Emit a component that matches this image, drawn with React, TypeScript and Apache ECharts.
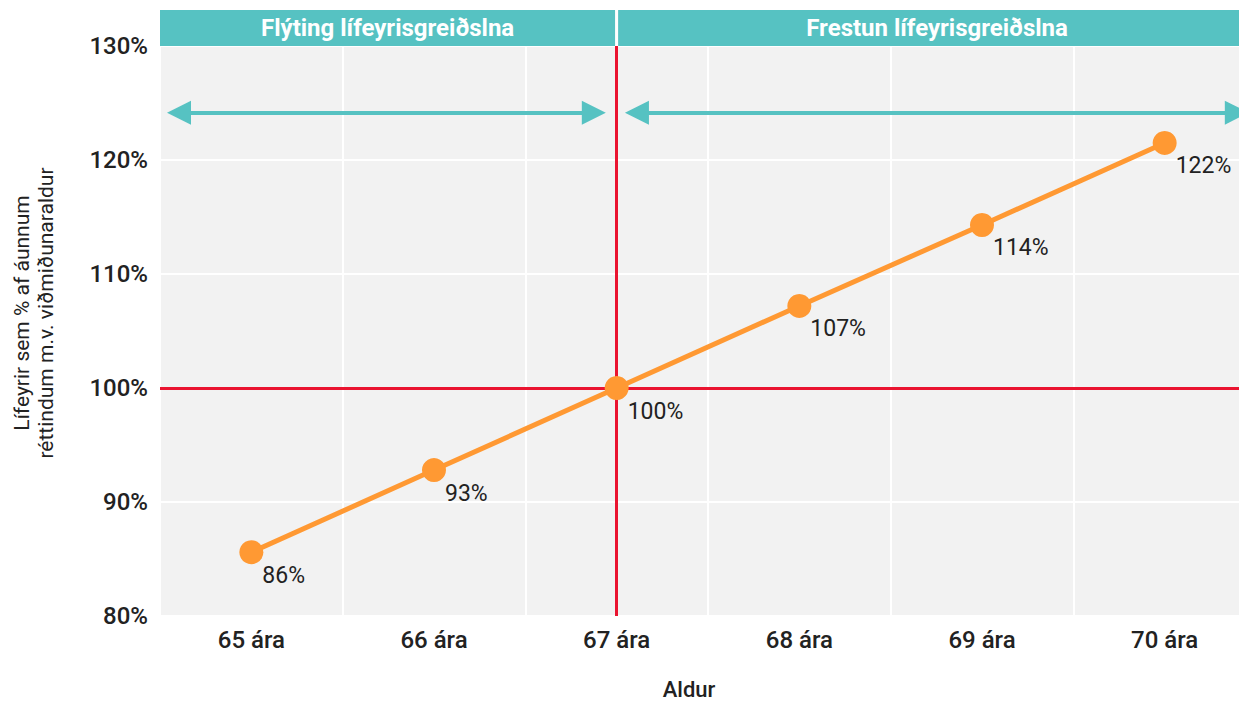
import React, { useEffect, useRef } from "react";
import * as echarts from "echarts";

const categories = ["65 ára", "66 ára", "67 ára", "68 ára", "69 ára", "70 ára"];
const pensionPct = [85.6, 92.8, 100, 107.2, 114.3, 121.5];

const yMin = 80;
const yTickTop = 130;
const yTop = 133.16;
const yInterval = 10;

const xSpanMin = 64.5;
const xSpanMax = 70.5;

const headerSections = [
  { name: "Flýting lífeyrisgreiðslna", from: 64.5, to: 66.992, color: "#56c2c2" },
  { name: "", from: 66.992, to: 67.008, color: "#ffffff" },
  { name: "Frestun lífeyrisgreiðslna", from: 67.008, to: 70.5, color: "#56c2c2" },
];

const arrowLevel = 124.15;
const arrowSpans = [
  [64.604, 66.875],
  [67.111, 70.395],
];

const referenceAge = 67;
const referencePct = 100;

const FONT = "Roboto, 'Noto Sans', sans-serif";

export default function App() {
  const ref = useRef<HTMLDivElement>(null);

  useEffect(() => {
    if (!ref.current) return;
    const chart = echarts.init(ref.current, undefined, { renderer: "svg" });

    const option: any = {
      animation: false,
      grid: {
        left: 160,
        right: 0,
        top: 10,
        bottom: 89,
        show: true,
        backgroundColor: "#f2f2f2",
        borderWidth: 0,
      },
      xAxis: [
        {
          type: "category",
          data: categories,
          boundaryGap: true,
          axisLine: { show: false },
          axisTick: { show: false },
          axisLabel: {
            interval: 0,
            margin: 12,
            color: "#222",
            fontFamily: FONT,
            fontSize: 24,
            fontWeight: 500,
          },
          splitLine: { show: true, interval: 0, lineStyle: { color: "#ffffff", width: 2 } },
          name: "Aldur",
          nameLocation: "middle",
          nameGap: 62,
          nameTextStyle: {
            color: "#222",
            fontFamily: FONT,
            fontSize: 22,
            fontWeight: 500,
            padding: [0, 38, 0, 0],
          },
        },
        {
          type: "value",
          min: xSpanMin,
          max: xSpanMax,
          show: false,
        },
      ],
      yAxis: {
        type: "value",
        min: yMin,
        max: yTop,
        interval: yInterval,
        axisLine: { show: false },
        axisTick: { show: false },
        axisLabel: {
          margin: 12,
          color: "#222",
          fontFamily: FONT,
          fontSize: 24,
          fontWeight: 500,
          formatter: (v: number) =>
            Math.abs(v % yInterval) < 1e-6 && v <= yTickTop ? `${v}%` : "",
        },
        splitLine: { show: true, lineStyle: { color: "#ffffff", width: 2 } },
        name: "Lífeyrir sem % af áunnum\nréttindum m.v. viðmiðunaraldur",
        nameLocation: "middle",
        nameGap: 102,
        nameTextStyle: {
          color: "#222",
          fontFamily: FONT,
          fontSize: 21,
          lineHeight: 24,
        },
      },
      series: [
        {
          type: "line",
          xAxisIndex: 1,
          data: [],
          silent: true,
          markArea: {
            silent: true,
            data: headerSections.map((s) => [
              {
                name: s.name,
                xAxis: s.from,
                yAxis: yTickTop,
                itemStyle: { color: s.color, opacity: 1 },
              },
              { xAxis: s.to, yAxis: yTop },
            ]),
            label: {
              show: true,
              position: "inside",
              color: "#ffffff",
              fontFamily: FONT,
              fontSize: 24,
              fontWeight: "bold",
            },
          },
        },
        {
          type: "line",
          xAxisIndex: 1,
          data: [],
          silent: true,
          markLine: {
            silent: true,
            z: 3,
            symbol: ["none", "none"],
            label: { show: false },
            lineStyle: { color: "#ea1430", width: 3, type: "solid", opacity: 1 },
            data: [
              [
                { coord: [referenceAge, yMin] },
                { coord: [referenceAge, yTickTop] },
              ],
              [
                { coord: [xSpanMin, referencePct] },
                { coord: [xSpanMax, referencePct] },
              ],
            ],
          },
        },
        {
          type: "line",
          xAxisIndex: 1,
          data: [],
          silent: true,
          markLine: {
            silent: true,
            z: 3,
            symbol: ["triangle", "triangle"],
            symbolSize: 24,
            label: { show: false },
            lineStyle: { color: "#56c2c2", width: 4, type: "solid", opacity: 1 },
            data: arrowSpans.map(([a, b]) => [
              { coord: [a, arrowLevel] },
              { coord: [b, arrowLevel] },
            ]),
          },
        },
        {
          type: "line",
          xAxisIndex: 0,
          z: 10,
          data: pensionPct,
          symbol: "circle",
          symbolSize: 24,
          lineStyle: { color: "#ff9933", width: 5 },
          itemStyle: { color: "#ff9933" },
          label: {
            show: true,
            position: [23, 35],
            align: "left",
            verticalAlign: "middle",
            color: "#222",
            fontFamily: FONT,
            fontSize: 23,
            formatter: (p: any) => `${Math.round(p.value)}%`,
          },
        },
      ],
    };

    chart.setOption(option);
    return () => chart.dispose();
  }, []);

  return (
    <div
      style={{
        position: "absolute",
        left: 0,
        top: 0,
        width: 1239,
        height: 705,
        overflow: "hidden",
      }}
    >
      <div ref={ref} style={{ width: 1256, height: 705 }} />
    </div>
  );
}
